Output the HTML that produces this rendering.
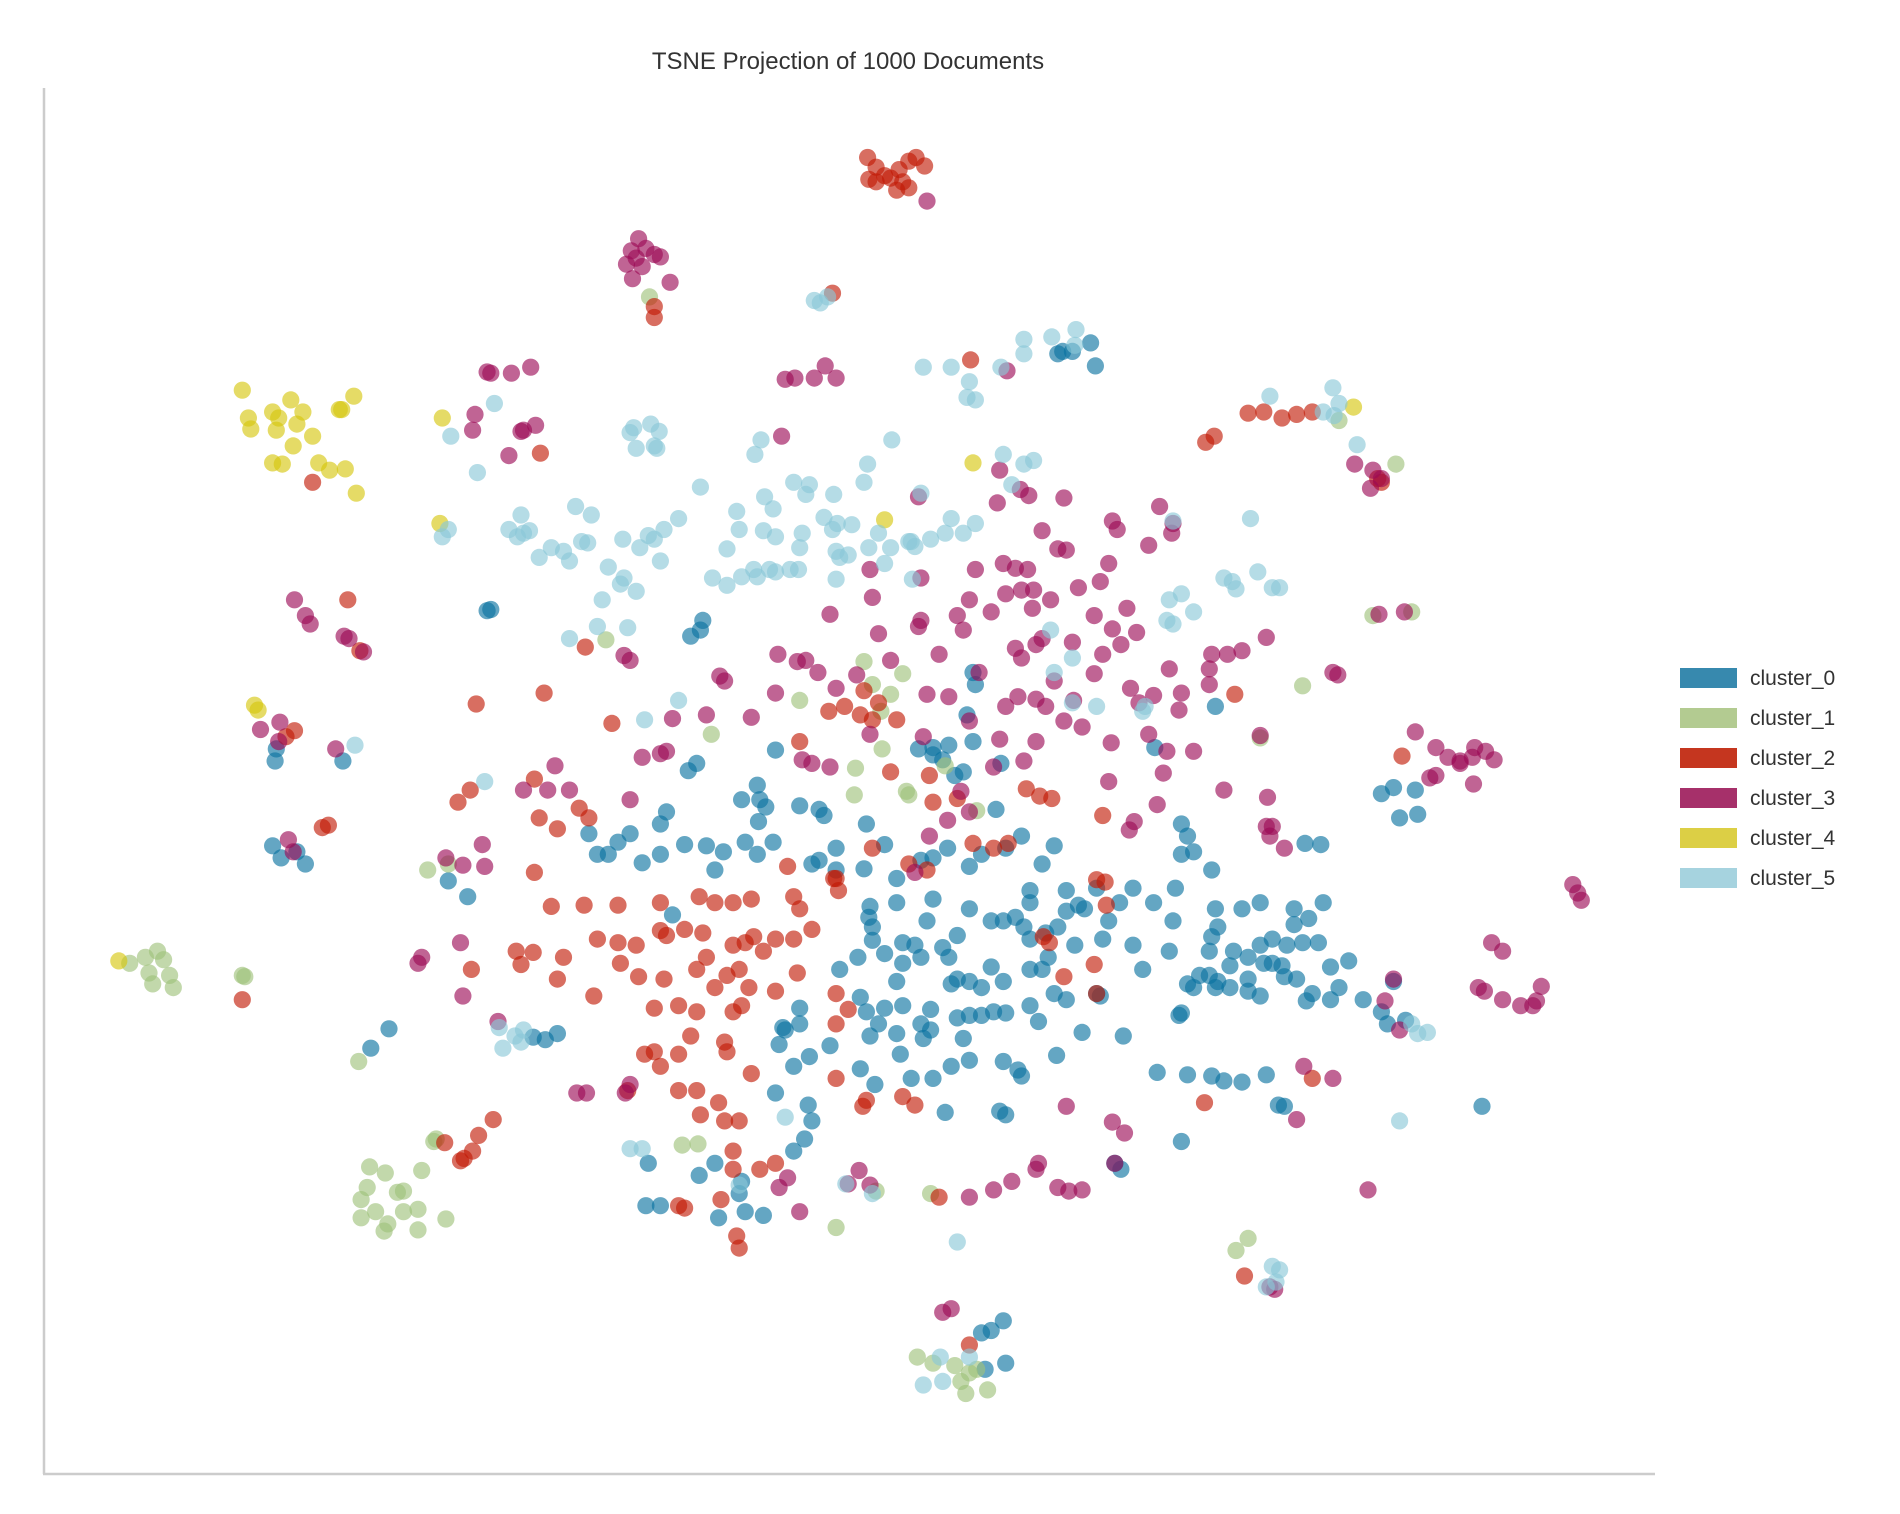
<!DOCTYPE html>
<html><head><meta charset="utf-8"><style>
html,body{margin:0;padding:0;background:#fff;}
svg{display:block;font-family:"Liberation Sans",sans-serif;}
</style></head><body>
<svg id="chart" width="1900" height="1514" viewBox="0 0 1900 1514">
<text x="848" y="69" font-size="24" fill="#333" text-anchor="middle">TSNE Projection of 1000 Documents</text>
<line x1="44" y1="88" x2="44" y2="1474" stroke="#ccc" stroke-width="2.5"/>
<line x1="43" y1="1474" x2="1655" y2="1474" stroke="#ccc" stroke-width="2.5"/>
<g id="points"></g>
<g id="legend"></g>
</svg>
<script>
const labels=["cluster_0","cluster_1","cluster_2","cluster_3","cluster_4","cluster_5"];
const colors=["#0a72a0","#9fc27a","#c21a05","#9c0a55","#d6c60c","#8ac8d8"];
const legendColors=["#3789ae","#b3cb91","#c5361f","#a6306a","#dccf45","#a6d3df"];
const c0=[[877,290],[873,292],[885,290],[900,283],[904,302],[402,504],[405,503],[570,525],[580,512],[578,520],[228,618],[227,628],[283,628],[225,698],[232,708],[245,703],[252,713],[306,865],[321,849],[386,740],[370,727],[803,555],[758,618],[770,617],[778,627],[788,640],[795,637],[783,615],[640,619],[625,648],[627,660],[612,660],[632,666],[626,678],[638,695],[575,630],[568,636],[545,680],[550,670],[520,688],[510,695],[502,705],[493,705],[486,688],[545,705],[565,697],[583,698],[597,703],[615,695],[625,705],[660,665],[676,668],[680,673],[690,700],[676,710],[670,713],[690,718],[713,717],[730,697],[715,680],[740,725],[760,710],[770,708],[782,700],[800,715],[810,705],[822,668],[830,700],[843,690],[870,698],[860,713],[850,735],[880,735],[890,747],[880,752],[863,770],[845,765],[828,760],[818,760],[800,750],[790,772],[770,742],[765,760],[740,745],[718,748],[717,757],[708,790],[720,776],[730,787],[745,795],[740,810],[755,780],[760,790],[778,782],[783,790],[785,812],[800,810],[810,815],[810,838],[820,835],[830,836],[800,838],[790,840],[768,833],[760,845],[745,830],[730,832],[715,835],[710,823],[693,800],[660,832],[660,845],[648,850],[643,862],[655,880],[668,872],[685,863],[718,855],[725,845],[740,853],[743,870],[762,857],[768,850],[795,857],[800,875],[785,880],[770,890],[752,890],[710,882],[722,895],[780,918],[825,917],[830,920],[843,888],[840,883],[828,876],[857,843],[872,871],[893,852],[927,855],[955,885],[980,887],[1000,888],[1010,892],[1025,893],[1045,887],[1055,912],[1060,913],[1223,913],[975,942],[908,822],[905,820],[880,825],[860,800],[865,790],[887,780],[910,775],[915,760],[924,745],[935,780],[943,800],[952,745],[970,733],[968,760],[965,785],[973,838],[975,836],[998,805],[1000,773],[998,785],[1005,765],[1003,750],[985,815],[1003,815],[1015,815],[1018,785],[1025,750],[1040,780],[1043,795],[1050,775],[1062,780],[1068,763],[1080,758],[1068,750],[1075,778],[1088,778],[1098,798],[1092,745],[1060,806],[1083,820],[1078,826],[1098,825],[1105,815],[1125,825],[1140,835],[1145,845],[1150,810],[1160,842],[1140,655],[1150,650],[1168,652],[1155,675],[1170,672],[1077,696],[1090,697],[1003,583],[975,680],[980,690],[985,703],[975,705],[1000,718],[1040,745],[953,617],[1030,808],[935,733],[805,565],[770,623],[798,590],[826,630],[803,612],[850,775],[640,902],[655,950],[664,940],[670,925],[667,912],[535,960],[577,970],[590,960],[612,975],[615,1000],[630,1003],[593,1005],[533,995],[545,995],[460,853],[450,858],[440,856],[810,1100],[818,1098],[828,1090],[830,1125],[813,1130],[610,985],[925,965],[920,960],[895,750],[905,733],[590,718],[555,755],[530,712],[646,848],[720,765],[745,778],[790,808],[818,798],[828,810],[850,745],[838,757],[873,765],[980,812],[990,805],[1005,810],[1015,797],[1030,790],[1050,795],[1058,797],[1030,818],[1040,822],[1070,808],[1113,793],[870,820],[850,800],[850,830]];
const c1=[[107,795],[120,790],[130,785],[135,792],[123,803],[126,812],[143,815],[140,805],[200,805],[202,806],[296,876],[360,940],[358,942],[298,990],[303,980],[318,968],[305,963],[328,984],[310,1000],[320,1010],[333,983],[348,966],[345,998],[345,1015],[333,1000],[368,1006],[298,1005],[317,1016],[353,718],[370,713],[536,245],[500,528],[587,606],[660,578],[713,546],[745,556],[735,573],[727,587],[706,634],[705,656],[750,656],[748,653],[780,632],[806,669],[728,618],[720,565],[563,945],[576,944],[723,983],[690,1013],[768,985],[1040,609],[1075,566],[1133,508],[1165,505],[1152,383],[1105,347],[1030,1022],[1020,1032],[757,1120],[788,1127],[800,1133],[793,1140],[797,1150],[815,1147],[806,1130],[770,1125]];
const c2=[[716,130],[723,138],[717,148],[730,145],[742,140],[750,133],[756,130],[763,137],[745,150],[740,157],[750,155],[723,150],[735,147],[540,253],[540,262],[687,242],[801,297],[995,365],[1002,360],[1030,341],[1043,340],[1058,345],[1070,342],[1083,340],[1140,398],[1137,395],[258,398],[446,374],[287,495],[297,537],[393,581],[449,572],[483,534],[505,597],[378,662],[388,652],[266,683],[271,681],[243,603],[236,608],[200,825],[367,943],[383,956],[380,958],[395,937],[407,924],[390,950],[441,643],[445,675],[460,684],[478,667],[486,675],[441,720],[455,748],[482,747],[510,747],[545,745],[577,740],[590,745],[605,745],[620,742],[655,740],[660,750],[690,725],[692,735],[660,612],[684,587],[697,583],[710,590],[713,570],[720,594],[725,580],[740,594],[735,637],[767,640],[770,662],[790,659],[803,696],[820,700],[832,696],[847,651],[858,657],[868,659],[910,673],[905,726],[912,728],[913,747],[903,796],[905,820],[878,806],[861,773],[866,778],[1019,573],[1157,624],[1083,890],[994,910],[389,800],[426,785],[430,796],[440,786],[465,790],[493,775],[510,778],[525,780],[545,768],[550,772],[565,767],[580,770],[583,790],[605,780],[615,778],[622,773],[630,785],[640,775],[655,775],[670,767],[460,808],[490,822],[512,795],[527,806],[548,808],[575,800],[590,815],[600,805],[618,815],[640,818],[658,803],[540,832],[560,830],[575,835],[605,835],[612,830],[690,820],[700,833],[690,845],[598,860],[600,868],[570,855],[560,870],[540,868],[532,870],[545,880],[620,886],[560,900],[575,900],[578,920],[593,910],[598,925],[610,925],[518,900],[605,950],[605,965],[595,990],[608,1020],[610,1030],[627,965],[640,960],[560,995],[565,997],[712,913],[715,908],[745,905],[755,912],[690,890],[610,800],[650,715],[688,725],[720,700],[750,713],[765,718],[775,988],[800,1110],[1027,1053]];
const c3=[[527,197],[521,207],[533,205],[540,210],[545,212],[525,213],[517,218],[530,220],[522,230],[553,233],[765,166],[402,307],[405,308],[422,308],[438,303],[392,342],[390,355],[432,355],[442,351],[420,376],[430,356],[648,313],[656,312],[672,312],[681,302],[690,312],[645,360],[831,306],[1118,383],[1133,388],[1131,403],[1140,395],[758,410],[760,477],[718,470],[720,493],[685,507],[598,562],[594,558],[520,545],[515,541],[243,495],[252,508],[256,515],[284,525],[288,527],[300,538],[231,596],[215,602],[230,612],[277,618],[238,693],[242,703],[398,697],[368,708],[382,714],[400,715],[348,790],[345,795],[380,778],[382,822],[411,843],[476,902],[484,902],[516,902],[520,895],[660,1000],[700,977],[709,966],[718,978],[643,980],[650,972],[778,1083],[785,1080],[800,988],[820,982],[835,975],[857,960],[855,965],[873,980],[882,983],[893,982],[918,926],[928,935],[920,960],[880,913],[1070,924],[1076,880],[1100,890],[1129,982],[1048,1062],[1052,1064],[1298,730],[1302,737],[1305,743],[1231,778],[1240,785],[1220,815],[1225,818],[1240,825],[1255,830],[1268,826],[1272,814],[1265,830],[1150,808],[1143,826],[1155,850],[1168,604],[1185,617],[1195,625],[1205,630],[1217,617],[1215,625],[1226,620],[1233,627],[1216,647],[1185,640],[1180,642],[1205,628],[1159,505],[1138,507],[1100,555],[1104,557],[1045,526],[1040,607],[1046,658],[1048,690],[1045,682],[1060,700],[1050,682],[825,388],[823,415],[842,404],[849,409],[878,411],[860,438],[873,453],[880,454],[918,430],[922,437],[957,418],[968,432],[948,450],[967,440],[915,465],[908,480],[890,485],[903,508],[930,502],[918,519],[938,522],[925,532],[910,540],[903,556],[885,530],[867,495],[853,487],[848,470],[843,487],[838,469],[828,465],[805,470],[800,495],[790,508],[795,520],[818,505],[830,490],[852,502],[860,527],[855,532],[843,543],[870,562],[886,578],[893,600],[863,583],[855,577],[840,575],[830,583],[825,610],[820,633],[845,628],[855,612],[878,595],[917,613],[915,645],[936,678],[932,685],[963,620],[960,638],[955,664],[973,586],[985,620],[998,552],[998,565],[1013,540],[1025,537],[1010,652],[965,552],[975,572],[952,574],[933,568],[948,606],[940,580],[1000,540],[838,535],[808,555],[800,595],[783,575],[765,573],[758,517],[760,512],[775,540],[725,523],[735,545],[707,557],[690,568],[675,555],[665,545],[658,546],[642,540],[662,627],[670,630],[685,633],[640,572],[620,592],[583,590],[555,593],[550,620],[530,625],[545,622],[520,660],[458,632],[452,652],[432,652],[470,652],[718,606],[767,690],[782,677],[793,653],[800,670],[755,720],[762,608]];
const c4=[[200,322],[205,345],[207,354],[225,340],[240,330],[230,345],[250,340],[228,355],[245,350],[258,360],[242,368],[225,382],[233,383],[263,382],[272,388],[285,387],[294,407],[280,338],[292,327],[282,338],[365,345],[363,432],[210,582],[213,586],[803,382],[730,429],[1117,336],[98,793]];
const c5=[[672,248],[677,250],[683,245],[762,303],[785,303],[800,315],[805,330],[798,328],[826,303],[845,280],[845,292],[868,278],[888,272],[887,285],[1048,327],[1100,320],[1105,333],[1101,343],[1092,340],[1120,367],[408,333],[372,360],[394,390],[520,357],[525,370],[540,368],[544,356],[537,350],[523,353],[542,370],[578,402],[623,375],[628,363],[631,410],[655,398],[665,408],[668,400],[688,408],[713,398],[716,383],[736,363],[760,407],[828,375],[845,383],[853,380],[835,400],[725,440],[703,433],[691,432],[687,437],[680,427],[662,440],[660,452],[652,470],[640,472],[622,470],[612,476],[600,483],[588,477],[600,453],[610,437],[630,438],[638,420],[640,443],[608,422],[560,428],[548,437],[535,442],[528,452],[545,463],[540,445],[514,445],[502,468],[515,477],[525,488],[512,482],[497,495],[470,527],[493,517],[518,518],[485,448],[475,418],[488,425],[480,447],[470,463],[465,455],[455,452],[445,460],[430,425],[432,440],[427,443],[420,437],[437,438],[365,443],[370,437],[690,455],[693,460],[717,452],[752,447],[755,451],[768,445],[780,440],[785,428],[795,440],[805,432],[753,478],[750,447],[700,458],[659,470],[635,470],[625,476],[690,478],[735,452],[730,465],[1032,428],[968,430],[965,495],[975,490],[985,505],[968,515],[963,512],[1010,477],[1017,480],[1020,486],[1038,472],[1050,485],[1056,485],[867,520],[885,543],[870,555],[885,580],[905,583],[943,587],[945,583],[560,578],[532,594],[293,615],[400,645],[412,848],[425,855],[432,850],[415,865],[430,860],[520,948],[530,948],[648,922],[610,978],[698,977],[720,985],[790,1025],[776,1120],[762,1143],[778,1140],[800,1120],[1045,1062],[1053,1058],[1056,1048],[1050,1045],[1155,925],[1165,845],[1178,852],[1170,853]];
const series=[c0,c1,c2,c3,c4,c5];
const K=1900/1568;
function xs(v){return v*K;}
function ys(v){return v*K;}
const NS="http://www.w3.org/2000/svg";
const pg=document.getElementById('points');
series.forEach((pts,i)=>{
  const g=document.createElementNS(NS,'g');
  
  
  pts.forEach(p=>{
    const c=document.createElementNS(NS,'circle');
    c.setAttribute('cx',xs(p[0]).toFixed(1));
    c.setAttribute('cy',ys(p[1]).toFixed(1));
    c.setAttribute('r',8.6);
    c.setAttribute('fill',colors[i]);
    c.setAttribute('fill-opacity',0.63);
    
    
    g.appendChild(c);
  });
  pg.appendChild(g);
});
const lg=document.getElementById('legend');
labels.forEach((l,i)=>{
  const y=678+i*40;
  const r=document.createElementNS(NS,'rect');
  r.setAttribute('x',1680);r.setAttribute('y',y-10);r.setAttribute('width',57);r.setAttribute('height',20);
  r.setAttribute('fill',legendColors[i]);
  
  
  lg.appendChild(r);
  const t=document.createElementNS(NS,'text');
  t.setAttribute('x',1750);t.setAttribute('y',y+7);t.setAttribute('font-size',21);t.setAttribute('fill','#333');
  t.textContent=l;
  
  
  lg.appendChild(t);
});
</script>
</body></html>
